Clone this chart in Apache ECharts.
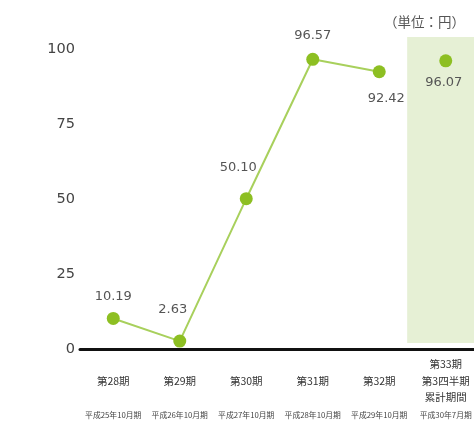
<!DOCTYPE html>
<html>
<head>
<meta charset="utf-8">
<script src="https://cdn.jsdelivr.net/npm/echarts@6/dist/echarts.min.js"></script>
<style>
html,body{margin:0;padding:0;background:#fff;}
#c{width:474px;height:425px;}
</style>
</head>
<body>
<div id="c"></div>
<script>
// ---- data ----
const periods = ['第28期', '第29期', '第30期', '第31期', '第32期', '第33期\n第3四半期\n累計期間'];
const fiscalLabels = ['平成25年10月期', '平成26年10月期', '平成27年10月期', '平成28年10月期', '平成29年10月期', '平成30年7月期'];
const annualEPS = [10.19, 2.63, 50.10, 96.57, 92.42];
const cumulativeEPS = 96.07;
const yTicks = [0, 25, 50, 75, 100];
const unitText = '（単位：円）';

// label placement per point (styling only)
const labelPlace = [
  {position: 'top', offset: [0, -4]},
  {position: 'top', offset: [-7, -13]},
  {position: 'top', offset: [-8, -13]},
  {position: 'top', offset: [0, -6]},
  {position: 'bottom', offset: [7, 9]}
];

const lineData = annualEPS.map((v, i) => ({
  value: v,
  label: Object.assign({show: true, formatter: v.toFixed(2)}, labelPlace[i])
}));
lineData.push('-');

const scatterData = periods.map((p, i) => i === periods.length - 1 ? {
  value: cumulativeEPS,
  label: {show: true, position: 'bottom', offset: [-2, 4], formatter: cumulativeEPS.toFixed(2)}
} : '-');

const labelFont = {fontFamily: 'DejaVu Sans', fontSize: 13, color: '#555'};
const nCat = periods.length;

const chart = echarts.init(document.getElementById('c'), null, {renderer: 'canvas'});
chart.setOption({
  backgroundColor: '#fff',
  animation: false,
  title: {
    text: unitText,
    right: 4,
    top: 10,
    textStyle: {fontFamily: 'Noto Sans CJK JP', fontSize: 13.5, fontWeight: 'normal', color: '#555'}
  },
  grid: {left: 80, width: 399, top: 37, bottom: 76, containLabel: false, outerBoundsMode: 'none'},
  xAxis: [{
    type: 'category',
    data: periods,
    boundaryGap: true,
    axisLine: {lineStyle: {color: '#111', width: 3}},
    axisTick: {show: false},
    axisLabel: {
      interval: 0,
      margin: 7,
      hideOverlap: false,
      formatter: function (value, idx) {
        let lines = value.split('\n');
        if (lines.length === 1) lines = [' ', lines[0], ' '];
        return lines.map(l => '{m|' + l + '}').join('\n') + '\n{s|' + fiscalLabels[idx] + '}';
      },
      rich: {
        m: {fontFamily: 'Noto Sans CJK JP', fontSize: 10.5, lineHeight: 16.5, color: '#333'},
        s: {fontFamily: 'Noto Sans CJK JP', fontSize: 7.8, lineHeight: 19, color: '#444'}
      }
    }
  }, {
    // hidden helper axis for the shaded band (category slots 0..nCat)
    type: 'value',
    min: 0,
    max: nCat,
    show: false
  }],
  yAxis: {
    type: 'value',
    min: 0,
    max: 104,
    interval: 25,
    splitLine: {show: false},
    axisLine: {show: false},
    axisTick: {show: false},
    axisLabel: {
      margin: 5,
      fontFamily: 'DejaVu Sans',
      fontSize: 14.5,
      color: '#444',
      formatter: v => yTicks.indexOf(v) >= 0 ? String(v) : ''
    }
  },
  series: [
    {
      type: 'line',
      xAxisIndex: 1,
      data: [],
      silent: true,
      z: 1,
      markArea: {
        silent: true,
        itemStyle: {color: '#e6f0d5'},
        data: [[
          {xAxis: nCat - 1.08, yAxis: 2},
          {xAxis: nCat, yAxis: 104}
        ]]
      }
    },
    {
      type: 'scatter',
      data: scatterData,
      symbol: 'circle',
      symbolSize: 13,
      itemStyle: {color: '#8dbf22', opacity: 1},
      label: labelFont,
      z: 3
    },
    {
      type: 'line',
      data: lineData,
      symbol: 'circle',
      symbolSize: 13,
      itemStyle: {color: '#8dbf22'},
      lineStyle: {color: '#a8d05c', width: 2},
      label: labelFont,
      z: 4
    }
  ]
});
</script>
</body>
</html>
